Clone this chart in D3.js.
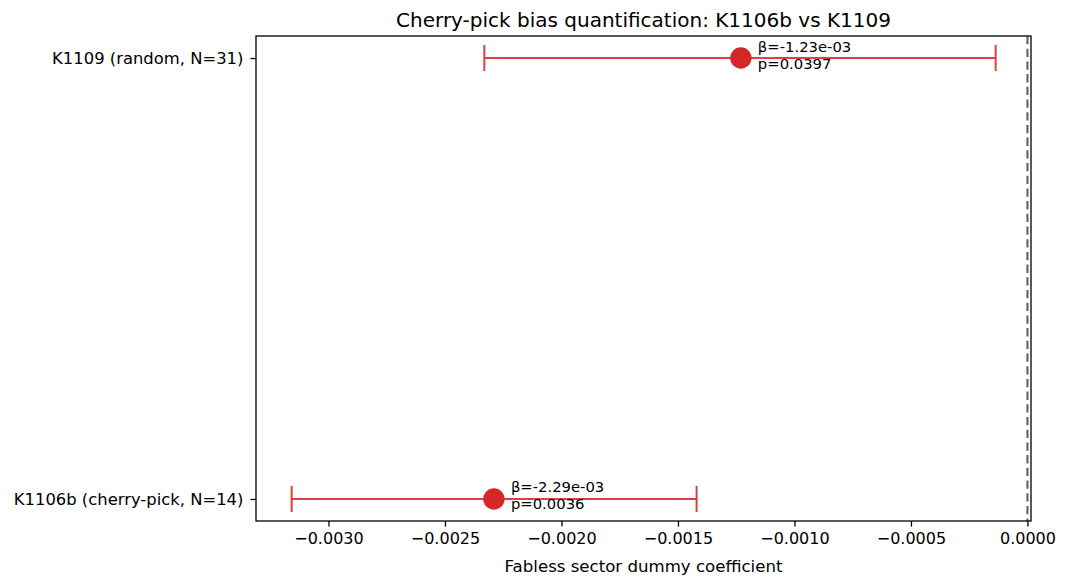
<!DOCTYPE html>
<html>
<head>
<meta charset="utf-8">
<script src="https://cdn.jsdelivr.net/npm/d3@7"></script>
<style>
  html, body { margin: 0; padding: 0; background: #fff; }
  svg { display: block; font-family: "DejaVu Sans", sans-serif; }
</style>
</head>
<body>
<svg id="chart" width="1068" height="587"></svg>
<script>
// ---- data ----
const categories = ["K1106b (cherry-pick, N=14)", "K1109 (random, N=31)"];
const betas = [-0.00229, -0.00123];
const ciLow = [-0.003158, -0.002331];
const ciHigh = [-0.001420, -0.0001365];
const pValues = ["0.0036", "0.0397"];
const xTicks = [-0.0030, -0.0025, -0.0020, -0.0015, -0.0010, -0.0005, 0.0000];
const xDomain = [-0.003311, 0.0000152];
const titleText = "Cherry-pick bias quantification: K1106b vs K1109";
const xLabelText = "Fabless sector dummy coefficient";

// ---- layout ----
const svg = d3.select("#chart");
const L = 256, R = 1031, T = 36, B = 521;
const red = "#d62728";

const x = d3.scaleLinear().domain(xDomain).range([L, R]);
const y = d3.scaleLinear().domain([-0.05, 1.05]).range([B, T]);

function fmtExp(v) {
  const s = v.toExponential(2);
  const m = s.match(/^(-?[\d.]+)e([+-])(\d+)$/);
  const exp = m[3].length < 2 ? "0" + m[3] : m[3];
  return m[1] + "e" + m[2] + exp;
}

const rows = categories.map((c, i) => ({
  cat: c, i, beta: betas[i], lo: ciLow[i], hi: ciHigh[i], p: pValues[i]
}));

// reference line at 0
svg.append("line")
  .attr("x1", x(0)).attr("x2", x(0))
  .attr("y1", T).attr("y2", B)
  .attr("stroke", "#626262")
  .attr("stroke-width", 2.1)
  .attr("stroke-dasharray", "8.3,4.4");

// error bars
const g = svg.append("g");
rows.forEach(d => {
  const yy = y(d.i);
  g.append("line")
    .attr("x1", x(d.lo)).attr("x2", x(d.hi))
    .attr("y1", yy).attr("y2", yy)
    .attr("stroke", red).attr("stroke-width", 2).attr("opacity", 0.88);
  [d.lo, d.hi].forEach(v => {
    g.append("line")
      .attr("x1", x(v)).attr("x2", x(v))
      .attr("y1", yy - 13).attr("y2", yy + 13)
      .attr("stroke", red).attr("stroke-width", 2).attr("opacity", 0.88);
  });
  g.append("circle")
    .attr("cx", x(d.beta)).attr("cy", yy).attr("r", 10.7)
    .attr("fill", red);
  const t = g.append("text")
    .attr("x", x(d.beta) + 17)
    .attr("y", yy - 6.5)
    .attr("font-size", 14.8)
    .attr("fill", "#000");
  t.append("tspan").attr("x", x(d.beta) + 17).attr("dy", 0).text("β=" + fmtExp(d.beta));
  t.append("tspan").attr("x", x(d.beta) + 17).attr("dy", 17).text("p=" + d.p);
});

// axes
const xAxis = d3.axisBottom(x)
  .tickValues(xTicks)
  .tickFormat(d3.format(".4f"))
  .tickSize(5.6).tickPadding(5.6);
const xg = svg.append("g").attr("transform", `translate(0,${B})`).call(xAxis);
xg.select(".domain").remove();
xg.selectAll("line").attr("stroke", "#000").attr("stroke-width", 1.3);
xg.selectAll("text").attr("font-size", 16).attr("fill", "#000")
  .attr("font-family", "DejaVu Sans");

const yAxis = d3.axisLeft(y)
  .tickValues([0, 1])
  .tickFormat(i => categories[i])
  .tickSize(5.6).tickPadding(7);
const yg = svg.append("g").attr("transform", `translate(${L},0)`).call(yAxis);
yg.select(".domain").remove();
yg.selectAll("line").attr("stroke", "#000").attr("stroke-width", 1.3);
yg.selectAll("text").attr("font-size", 16.4).attr("fill", "#000")
  .attr("font-family", "DejaVu Sans");

// spines
svg.append("rect")
  .attr("x", L).attr("y", T).attr("width", R - L).attr("height", B - T)
  .attr("fill", "none").attr("stroke", "#000").attr("stroke-width", 1.3);

// title & label
svg.append("text")
  .attr("x", (L + R) / 2).attr("y", 27)
  .attr("text-anchor", "middle").attr("font-size", 20).attr("fill", "#000")
  .text(titleText);
svg.append("text")
  .attr("x", (L + R) / 2).attr("y", 572)
  .attr("text-anchor", "middle").attr("font-size", 16.6).attr("fill", "#000")
  .text(xLabelText);
</script>
</body>
</html>
